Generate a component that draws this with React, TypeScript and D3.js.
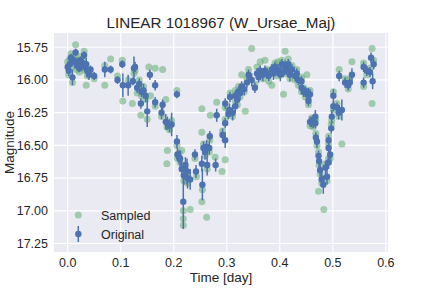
import * as d3 from 'd3';

// Original observations: time [day], magnitude, error
const origTime = [
  0.000, 0.002, 0.004, 0.006, 0.008, 0.009, 0.012, 0.015, 0.017, 0.018, 0.020, 0.022, 0.024, 0.026, 0.028,
  0.031, 0.033, 0.035, 0.037, 0.040, 0.043, 0.050, 0.070, 0.081, 0.094, 0.103, 0.104, 0.114, 0.123, 0.125,
  0.127, 0.131, 0.135, 0.139, 0.143, 0.147, 0.138, 0.150, 0.155, 0.165, 0.165, 0.177, 0.179, 0.185, 0.188,
  0.192, 0.196, 0.206, 0.206, 0.207, 0.210, 0.212, 0.215, 0.218, 0.219, 0.222, 0.225, 0.226, 0.231, 0.240,
  0.242, 0.253, 0.254, 0.256, 0.259, 0.262, 0.263, 0.267, 0.268, 0.279, 0.281, 0.292, 0.297, 0.297, 0.297,
  0.303, 0.305, 0.306, 0.311, 0.316, 0.316, 0.320, 0.322, 0.325, 0.328, 0.333, 0.338, 0.341, 0.347, 0.353,
  0.357, 0.360, 0.363, 0.368, 0.372, 0.376, 0.379, 0.385, 0.388, 0.391, 0.395, 0.397, 0.401, 0.404, 0.407,
  0.410, 0.413, 0.416, 0.419, 0.423, 0.429, 0.432, 0.435, 0.441, 0.441, 0.445, 0.448, 0.451, 0.454, 0.454,
  0.457, 0.457, 0.460, 0.463, 0.467, 0.467, 0.468, 0.470, 0.473, 0.474, 0.476, 0.479, 0.482, 0.486, 0.489,
  0.492, 0.492, 0.492, 0.495, 0.497, 0.498, 0.501, 0.501, 0.508, 0.511, 0.517, 0.512, 0.523, 0.529, 0.532,
  0.536, 0.558, 0.558, 0.564, 0.570, 0.572, 0.575, 0.577,
];
const origMag = [
  15.90, 15.93, 15.88, 15.83, 15.86, 15.98, 15.85, 15.79, 15.89, 15.88, 15.86, 15.91, 15.85, 15.88, 15.87,
  15.81, 15.90, 15.88, 15.93, 15.96, 15.92, 15.97, 15.92, 15.92, 16.00, 15.88, 16.04, 16.04, 16.01, 15.91,
  15.90, 16.06, 16.03, 16.09, 16.08, 16.12, 16.18, 16.24, 15.96, 16.04, 16.17, 16.25, 16.19, 16.32, 16.33,
  16.35, 16.34, 16.11, 16.47, 16.57, 16.59, 16.60, 16.68, 16.93, 16.73, 16.65, 16.70, 16.75, 16.76, 16.57,
  16.70, 16.64, 16.80, 16.52, 16.55, 16.51, 16.65, 16.52, 16.43, 16.65, 16.27, 16.42, 16.46, 16.33, 16.18,
  16.26, 16.23, 16.13, 16.25, 16.20, 16.12, 16.15, 16.09, 16.10, 16.05, 16.07, 16.02, 15.96, 16.00, 16.06,
  15.95, 15.98, 15.93, 15.96, 15.93, 15.95, 15.97, 15.92, 15.95, 15.90, 15.93, 15.92, 15.96, 15.88, 15.94,
  15.89, 15.92, 15.88, 15.96, 15.92, 15.97, 15.95, 16.00, 16.01, 16.06, 16.09, 16.09, 16.10, 16.11, 16.16,
  16.11, 16.32, 16.32, 16.32, 16.28, 16.33, 16.44, 16.47, 16.58, 16.62, 16.69, 16.76, 16.80, 16.67, 16.74,
  16.63, 16.52, 16.46, 16.57, 16.37, 16.28, 16.12, 16.20, 16.21, 16.25, 16.23, 15.97, 16.02, 16.04, 16.02,
  15.96, 15.90, 16.02, 15.93, 15.94, 15.83, 16.01, 15.88,
];
const origErr = [
  0.03, 0.04, 0.03, 0.03, 0.03, 0.06, 0.03, 0.03, 0.03, 0.04, 0.03, 0.03, 0.03, 0.04, 0.03,
  0.03, 0.04, 0.05, 0.04, 0.04, 0.03, 0.03, 0.06, 0.03, 0.03, 0.03, 0.09, 0.08, 0.03, 0.09,
  0.04, 0.04, 0.04, 0.04, 0.05, 0.05, 0.04, 0.12, 0.04, 0.04, 0.04, 0.05, 0.04, 0.06, 0.05,
  0.05, 0.09, 0.03, 0.05, 0.05, 0.05, 0.06, 0.06, 0.21, 0.07, 0.06, 0.10, 0.08, 0.08, 0.04,
  0.05, 0.06, 0.12, 0.05, 0.06, 0.05, 0.08, 0.05, 0.04, 0.05, 0.05, 0.05, 0.06, 0.04, 0.04,
  0.04, 0.05, 0.04, 0.06, 0.05, 0.04, 0.05, 0.04, 0.05, 0.04, 0.05, 0.04, 0.04, 0.05, 0.04,
  0.04, 0.04, 0.04, 0.05, 0.04, 0.04, 0.04, 0.04, 0.05, 0.04, 0.04, 0.04, 0.05, 0.04, 0.04,
  0.04, 0.04, 0.04, 0.05, 0.04, 0.04, 0.04, 0.04, 0.04, 0.05, 0.04, 0.04, 0.04, 0.05, 0.04,
  0.04, 0.04, 0.04, 0.05, 0.05, 0.04, 0.04, 0.05, 0.04, 0.05, 0.05, 0.05, 0.07, 0.05, 0.06,
  0.05, 0.04, 0.04, 0.04, 0.04, 0.05, 0.05, 0.04, 0.04, 0.05, 0.08, 0.04, 0.04, 0.04, 0.04,
  0.05, 0.04, 0.04, 0.04, 0.04, 0.04, 0.06, 0.04,
];

// Sampled points: time [day], magnitude
const sampTime = [
  0.000, 0.002, 0.004, 0.006, 0.008, 0.009, 0.012, 0.015, 0.017, 0.018, 0.020, 0.022, 0.024, 0.026, 0.028,
  0.031, 0.033, 0.035, 0.037, 0.040, 0.043, 0.050, 0.070, 0.070, 0.081, 0.094, 0.103, 0.104, 0.114, 0.122,
  0.125, 0.127, 0.131, 0.135, 0.139, 0.143, 0.147, 0.138, 0.150, 0.153, 0.156, 0.165, 0.165, 0.177, 0.179,
  0.185, 0.187, 0.188, 0.192, 0.187, 0.196, 0.206, 0.206, 0.207, 0.210, 0.212, 0.215, 0.218, 0.218, 0.218,
  0.219, 0.222, 0.225, 0.226, 0.231, 0.240, 0.243, 0.253, 0.253, 0.253, 0.254, 0.256, 0.259, 0.262, 0.263,
  0.267, 0.268, 0.269, 0.278, 0.281, 0.291, 0.292, 0.297, 0.297, 0.297, 0.303, 0.305, 0.306, 0.311, 0.316,
  0.316, 0.320, 0.322, 0.325, 0.328, 0.333, 0.335, 0.338, 0.341, 0.347, 0.353, 0.357, 0.360, 0.363, 0.368,
  0.372, 0.376, 0.379, 0.385, 0.388, 0.391, 0.395, 0.397, 0.401, 0.404, 0.407, 0.410, 0.413, 0.416, 0.419,
  0.423, 0.429, 0.432, 0.435, 0.441, 0.441, 0.445, 0.448, 0.451, 0.454, 0.454, 0.457, 0.457, 0.460, 0.463,
  0.467, 0.467, 0.468, 0.470, 0.473, 0.473, 0.474, 0.476, 0.479, 0.483, 0.486, 0.489, 0.492, 0.492, 0.492,
  0.495, 0.497, 0.498, 0.501, 0.501, 0.508, 0.511, 0.517, 0.512, 0.523, 0.529, 0.532, 0.536, 0.558, 0.558,
  0.564, 0.570, 0.574, 0.574, 0.577,
];
const sampMag = [
  15.86, 15.96, 15.84, 15.80, 15.90, 16.02, 15.82, 15.73, 15.92, 15.85, 15.89, 15.94, 15.82, 15.91, 15.84,
  15.78, 15.93, 16.04, 15.97, 15.93, 15.95, 15.99, 16.04, 15.89, 15.84, 15.97, 15.85, 16.16, 16.00, 16.18,
  15.95, 15.93, 16.10, 16.00, 16.12, 16.05, 16.15, 16.27, 16.30, 15.90, 16.12, 15.91, 16.20, 16.28, 15.92,
  16.15, 16.36, 16.54, 16.38, 16.64, 16.31, 16.08, 16.50, 16.60, 16.56, 16.63, 16.54, 17.00, 17.06, 17.11,
  16.77, 16.68, 16.73, 16.79, 16.99, 16.60, 16.74, 16.22, 16.40, 16.93, 16.84, 16.49, 16.58, 17.05, 16.68,
  16.55, 16.46, 16.27, 16.59, 16.17, 16.70, 16.39, 16.61, 16.30, 16.21, 16.23, 16.26, 16.10, 16.28, 16.16,
  16.08, 16.19, 16.05, 16.13, 15.96, 16.09, 16.24, 15.99, 15.92, 15.76, 16.03, 15.90, 15.95, 15.86, 15.99,
  15.85, 15.92, 16.01, 16.04, 15.90, 15.87, 15.97, 15.86, 15.93, 15.85, 16.11, 15.78, 15.95, 15.84, 15.99,
  15.89, 16.00, 15.92, 16.04, 15.98, 16.09, 16.06, 16.13, 15.96, 16.14, 16.19, 16.08, 16.35, 16.29, 16.36,
  16.31, 16.30, 16.41, 16.50, 16.55, 16.85, 16.65, 16.72, 16.79, 16.99, 16.64, 16.77, 16.60, 16.49, 16.43,
  16.60, 16.34, 16.31, 16.09, 16.23, 16.18, 16.28, 16.49, 15.92, 15.99, 16.07, 15.99, 15.86, 15.87, 16.05,
  15.96, 15.91, 15.76, 16.18, 15.85,
];

const xTicks = [0.0, 0.1, 0.2, 0.3, 0.4, 0.5, 0.6];
const yTicks = [15.75, 16.0, 16.25, 16.5, 16.75, 17.0, 17.25];

const W = 432;
const H = 288;
const FONT = '"Liberation Sans", Arial, sans-serif';
const BLUE = '#4C72B0';
const GREEN = '#55A868';

export default function App() {
  const left = 54, right = 388, top = 33, bottom = 252;
  const x = d3.scaleLinear().domain([-0.0258, 0.604]).range([left, right]);
  const y = d3.scaleLinear().domain([15.641, 17.315]).range([top, bottom]);

  const orig = origTime.map((t, i) => ({ t, m: origMag[i], e: origErr[i] }));
  const samp = sampTime.map((t, i) => ({ t, m: sampMag[i] }));

  return (
    <svg width={W} height={H} style={{ position: 'absolute', left: 0, top: 0, background: '#fff' }}
      fontFamily={FONT}>
      <rect x={left} y={top} width={right - left} height={bottom - top} fill="#EAEAF2" />
      {/* grid */}
      {xTicks.map((t) => (
        <line key={'gx' + t} x1={x(t)} x2={x(t)} y1={top} y2={bottom} stroke="#fff" strokeWidth={1.2} />
      ))}
      {yTicks.map((t) => (
        <line key={'gy' + t} x1={left} x2={right} y1={y(t)} y2={y(t)} stroke="#fff" strokeWidth={1.2} />
      ))}

      {/* sampled */}
      {samp.map((d, i) => (
        <circle key={'s' + i} cx={x(d.t)} cy={y(d.m)} r={3.5} fill={GREEN} fillOpacity={0.5} />
      ))}

      {/* original with error bars */}
      {orig.map((d, i) => (
        <line key={'e' + i} x1={x(d.t)} x2={x(d.t)} y1={y(d.m - d.e)} y2={y(d.m + d.e)}
          stroke={BLUE} strokeWidth={1.5} />
      ))}
      {orig.map((d, i) => (
        <circle key={'o' + i} cx={x(d.t)} cy={y(d.m)} r={3.2} fill={BLUE} />
      ))}

      {/* tick labels */}
      {xTicks.map((t) => (
        <text key={'tx' + t} x={x(t)} y={267} textAnchor="middle" fontSize={12.5} fill="#262626">
          {d3.format('.1f')(t)}
        </text>
      ))}
      {yTicks.map((t) => (
        <text key={'ty' + t} x={48} y={y(t)} dy="0.35em" textAnchor="end" fontSize={12.5} fill="#262626">
          {d3.format('.2f')(t)}
        </text>
      ))}

      {/* axis labels & title */}
      <text x={(left + right) / 2} y={282} textAnchor="middle" fontSize={13.5} fill="#262626">Time [day]</text>
      <text transform={`translate(14,${(top + bottom) / 2}) rotate(-90)`} textAnchor="middle" fontSize={13.5}
        fill="#262626">Magnitude</text>
      <text x={(left + right) / 2} y={28} textAnchor="middle" fontSize={15.2} fill="#262626">
        LINEAR 1018967 (W_Ursae_Maj)
      </text>

      {/* legend */}
      <circle cx={78.3} cy={215} r={3.5} fill={GREEN} fillOpacity={0.5} />
      <text x={101} y={219.5} fontSize={12.5} fill="#262626">Sampled</text>
      <line x1={78.3} x2={78.3} y1={226} y2={242} stroke={BLUE} strokeWidth={1.5} />
      <circle cx={78.3} cy={234} r={3.2} fill={BLUE} />
      <text x={101} y={238.5} fontSize={12.5} fill="#262626">Original</text>
    </svg>
  );
}
